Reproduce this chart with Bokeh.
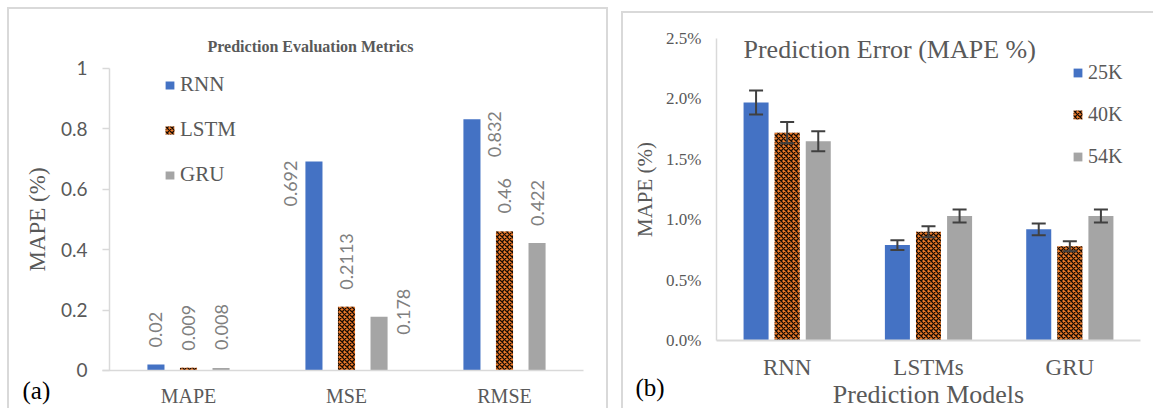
import math
from bokeh.plotting import figure
from bokeh.models import (Range1d, Legend, LegendItem, Label, Whisker, ColumnDataSource,
                          NumeralTickFormatter, FixedTicker, TeeHead, LinearAxis)
from bokeh.layouts import row
from bokeh.embed import file_html
from bokeh.resources import INLINE

# ---------------- data: panel (a) ----------------
metrics = ["MAPE", "MSE", "RMSE"]
models_a = ["RNN", "LSTM", "GRU"]
rnn = [0.02, 0.692, 0.832]
lstm = [0.009, 0.2113, 0.46]
gru = [0.008, 0.178, 0.422]
a_ticks = [0, 0.2, 0.4, 0.6, 0.8, 1]

# ---------------- data: panel (b) ----------------
models_b = ["RNN", "LSTMs", "GRU"]
sizes = ["25K", "40K", "54K"]
mape_25k = [0.0197, 0.0079, 0.0092]
mape_40k = [0.0172, 0.0090, 0.0078]
mape_54k = [0.0165, 0.0103, 0.0103]
err_25k = [0.0010, 0.0004, 0.00048]
err_40k = [0.00088, 0.00045, 0.00041]
err_54k = [0.00083, 0.00054, 0.00054]
b_ticks = [0, 0.005, 0.01, 0.015, 0.02, 0.025]

# ---------------- style ----------------
BLUE, ORANGE, GRAY = "#4472C4", "#EE7A28", "#A5A5A5"
TXT, LAB, AX = "#595959", "#7F7F7F", "#D9D9D9"
SERIF, SANS = "Liberation Serif", "Lato"
fills = [BLUE, ORANGE, GRAY]


def bar_style(i):
    kw = dict(fill_color=fills[i], line_color=None)
    if i == 1:
        kw.update(hatch_pattern="diagonal_cross", hatch_color="black", hatch_scale=5,
                  hatch_weight=1.3, hatch_alpha=0.9)
    return kw


def clean(p):
    p.xgrid.grid_line_color = None
    p.ygrid.grid_line_color = None
    p.outline_line_color = None
    p.background_fill_alpha = 0


# ================= panel (a) =================
# plot frame fills the canvas; the axes sit at fixed data locations
pa = figure(width=601, height=401, title=None,
            x_range=Range1d(-0.6329, 3.1709), y_range=Range1d(-0.13245, 1.19536),
            output_backend="svg", toolbar_location=None, min_border=0,
            x_axis_location=None, y_axis_location=None)
pa.styles = {"border-top": f"2px solid {AX}", "border-left": f"2px solid {AX}",
             "border-right": f"2px solid {AX}", "margin-left": "7px", "margin-top": "7px"}
clean(pa)

xs_a = [i + 0.5 for i in range(len(metrics))]
src_a = ColumnDataSource(dict(x=xs_a, RNN=rnn, LSTM=lstm, GRU=gru))
off_a = [-0.206, 0.0, 0.206]
# label nudges (px) replicating the chart's label placement
lab_dx = [[0, -23, 23], [0, 0, 0], [0, 24, 0]]
lab_dy = [[-17, 45, 38], [-17, -17, -18], [-18, 18, -17]]

rend_a = []
for i, name in enumerate(models_a):
    vals = src_a.data[name]
    src_a.data[name + "_x"] = [x + off_a[i] for x in xs_a]
    src_a.data[name + "_t"] = [str(v) for v in vals]
    src_a.data[name + "_dx"] = lab_dx[i]
    src_a.data[name + "_dy"] = lab_dy[i]
    r = pa.vbar(x=name + "_x", top=name, width=0.108, source=src_a, **bar_style(i))
    rend_a.append(r)
    pa.text(x=name + "_x", y=name, text=name + "_t", x_offset=name + "_dx",
            y_offset=name + "_dy", source=src_a, angle=math.pi / 2,
            text_align="left", text_baseline="middle",
            text_font={"value": SANS}, text_font_size="18px", text_color=LAB)

xa = LinearAxis(fixed_location=0, bounds=(-0.045, 3.0),
                ticker=FixedTicker(ticks=xs_a),
                major_label_overrides={x: m for x, m in zip(xs_a, metrics)})
xa.axis_line_color = AX
xa.axis_line_width = 1.5
xa.major_tick_line_color = None
xa.minor_tick_line_color = None
xa.major_label_text_font = SERIF
xa.major_label_text_font_size = "20px"
xa.major_label_text_color = TXT
xa.major_label_standoff = 9
pa.add_layout(xa, "below")

ya = LinearAxis(fixed_location=0, bounds=(0, 1), ticker=FixedTicker(ticks=a_ticks),
                formatter=NumeralTickFormatter(format="0.[0]"))
ya.axis_line_color = AX
ya.axis_line_width = 1.5
ya.major_tick_line_color = AX
ya.major_tick_line_width = 1.5
ya.major_tick_out = 7
ya.major_tick_in = 0
ya.minor_tick_line_color = None
ya.major_label_text_font = SANS
ya.major_label_text_font_size = "19px"
ya.major_label_text_color = TXT
ya.major_label_standoff = 15
ya.axis_label = "MAPE (%)"
ya.axis_label_text_font = SERIF
ya.axis_label_text_font_size = "23px"
ya.axis_label_text_font_style = "normal"
ya.axis_label_text_color = TXT
ya.axis_label_standoff = 8
pa.add_layout(ya, "left")

leg_a = Legend(items=[LegendItem(label=n, renderers=[r]) for n, r in zip(models_a, rend_a)],
               location=(155, 223), orientation="vertical", border_line_color=None,
               background_fill_alpha=0, padding=0, margin=0, spacing=20,
               glyph_width=11, glyph_height=10, label_height=24, label_standoff=5,
               label_text_font=SERIF, label_text_font_size="21px", label_text_color=TXT)
pa.add_layout(leg_a)

pa.add_layout(Label(x=1.272, y=1.073, text="Prediction Evaluation Metrics",
                    text_align="center", text_baseline="middle", text_font=SERIF,
                    text_font_style="bold", text_font_size="16px", text_color=TXT))
pa.add_layout(Label(x=-0.5506, y=-0.0662, text="(a)", text_align="left",
                    text_baseline="middle", text_font=SERIF, text_font_size="25px",
                    text_color="black"))

# ================= panel (b) =================
pb = figure(width=532, height=397, title=None,
            x_range=Range1d(-0.658, 3.1062), y_range=Range1d(-0.005795, 0.02707),
            output_backend="svg", toolbar_location=None, min_border=0,
            x_axis_location=None, y_axis_location=None)
pb.styles = {"border-top": f"2px solid {AX}", "border-left": f"2px solid {AX}",
             "margin-top": "11px"}
clean(pb)

xs_b = [i + 0.5 for i in range(len(models_b))]
vals_b = [mape_25k, mape_40k, mape_54k]
errs_b = [err_25k, err_40k, err_54k]
src_b = ColumnDataSource(dict(x=xs_b))
off_b = [-0.22, 0.0, 0.22]
rend_b = []
for i, s in enumerate(sizes):
    src_b.data["x" + s] = [x + off_b[i] for x in xs_b]
    src_b.data["v" + s] = vals_b[i]
    src_b.data["u" + s] = [v + e for v, e in zip(vals_b[i], errs_b[i])]
    src_b.data["l" + s] = [v - e for v, e in zip(vals_b[i], errs_b[i])]
    rend_b.append(pb.vbar(x="x" + s, top="v" + s, width=0.177, source=src_b,
                          **bar_style(i)))
    pb.add_layout(Whisker(base="x" + s, upper="u" + s, lower="l" + s, source=src_b,
                          line_color="#404040", line_width=2, level="annotation",
                          upper_head=TeeHead(size=14, line_color="#404040", line_width=2),
                          lower_head=TeeHead(size=14, line_color="#404040", line_width=2)))

xb = LinearAxis(fixed_location=0, bounds=(0, 3.0), ticker=FixedTicker(ticks=xs_b),
                major_label_overrides={x: m for x, m in zip(xs_b, models_b)})
xb.axis_line_color = AX
xb.axis_line_width = 2
xb.major_tick_line_color = None
xb.minor_tick_line_color = None
xb.major_label_text_font = SERIF
xb.major_label_text_font_size = "23px"
xb.major_label_text_color = TXT
xb.major_label_standoff = 9
pb.add_layout(xb, "below")

yb = LinearAxis(fixed_location=0, bounds=(0, 0.025), ticker=FixedTicker(ticks=b_ticks),
                formatter=NumeralTickFormatter(format="0.0%"))
yb.axis_line_color = AX
yb.axis_line_width = 1.5
yb.major_tick_line_color = None
yb.minor_tick_line_color = None
yb.major_label_text_font = SERIF
yb.major_label_text_font_size = "17px"
yb.major_label_text_color = TXT
yb.major_label_standoff = 9
yb.axis_label = "MAPE (%)"
yb.axis_label_text_font = SERIF
yb.axis_label_text_font_size = "21px"
yb.axis_label_text_font_style = "normal"
yb.axis_label_text_color = TXT
yb.axis_label_standoff = 6
pb.add_layout(yb, "left")

leg_b = Legend(items=[LegendItem(label=s, renderers=[r]) for s, r in zip(sizes, rend_b)],
               location=(449, 242), orientation="vertical", border_line_color=None,
               background_fill_alpha=0, padding=0, margin=0, spacing=19,
               glyph_width=11, glyph_height=11, label_height=22, label_standoff=5,
               label_text_font=SERIF, label_text_font_size="20px", label_text_color=TXT)
pb.add_layout(leg_b)

pb.add_layout(Label(x=0.191, y=0.02409, text="Prediction Error (MAPE %)",
                    text_align="left", text_baseline="middle", text_font=SERIF,
                    text_font_size="26px", text_color=TXT))
pb.add_layout(Label(x=-0.573, y=-0.00389, text="(b)", text_align="left",
                    text_baseline="middle", text_font=SERIF, text_font_size="25px",
                    text_color="black"))
pb.add_layout(Label(x=1.5, y=-0.00447, text="Prediction Models", text_align="center",
                    text_baseline="middle", text_font=SERIF, text_font_size="26px",
                    text_color=TXT))

layout = row(pa, pb, spacing=13)
open("out.html", "w").write(file_html(layout, INLINE))
